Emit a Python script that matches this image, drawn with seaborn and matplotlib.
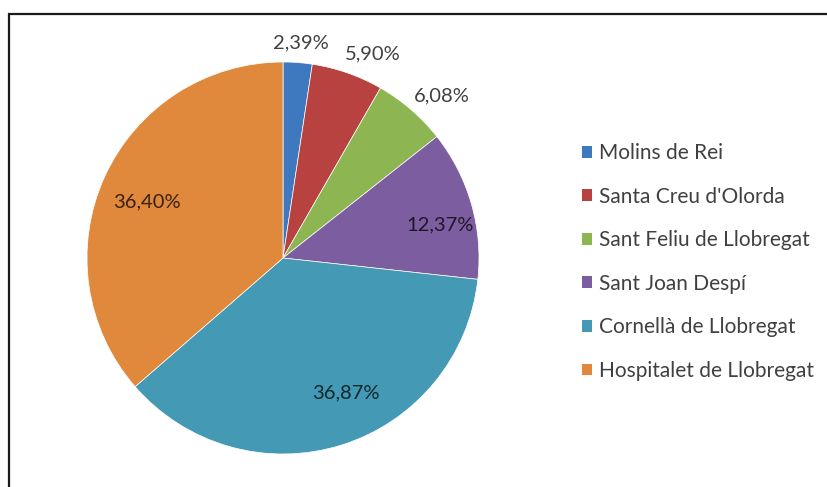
import numpy as np
import matplotlib
matplotlib.use("Agg")
import matplotlib.pyplot as plt
import seaborn as sns
from matplotlib.patches import Rectangle

# Share of each municipality
municipalities = [
    "Molins de Rei",
    "Santa Creu d'Olorda",
    "Sant Feliu de Llobregat",
    "Sant Joan Despí",
    "Cornellà de Llobregat",
    "Hospitalet de Llobregat",
]
shares = [2.39, 5.90, 6.08, 12.37, 36.87, 36.40]
share_labels = ["2,39%", "5,90%", "6,08%", "12,37%", "36,87%", "36,40%"]

sns.set_theme(style="white")
plt.rcParams["font.family"] = ["Lato", "DejaVu Sans"]

palette = sns.color_palette(
    ["#3E79BF", "#B8423F", "#8DB552", "#7C5EA0", "#4499B4", "#E0883B"]
)

W, H = 827, 487
fig = plt.figure(figsize=(W / 100, H / 100), dpi=100)
fig.patch.set_facecolor("white")

# square axes holding the pie
cx, cy, r = 283, 258, 196
ax = fig.add_axes([(cx - r) / W, (H - cy - r) / H, 2 * r / W, 2 * r / H])

wedges, _ = ax.pie(
    shares,
    colors=palette,
    startangle=90,
    counterclock=False,
    wedgeprops=dict(edgecolor="white", linewidth=0.5),
)
ax.set_xlim(-1, 1)
ax.set_ylim(-1, 1)
ax.set_aspect("equal")
ax.axis("off")

# label radius and small angular nudge per slice (best-fit placement)
label_radius = [1.10, 1.14, 1.16, 0.82, 0.76, 0.75]
label_shift = [-0.5, -4.5, -3.6, -4.1, 7.6, 2.1]
for w, txt, rad, shift in zip(wedges, share_labels, label_radius, label_shift):
    ang = np.deg2rad((w.theta1 + w.theta2) / 2 + shift)
    ax.text(rad * np.cos(ang), rad * np.sin(ang), txt,
            ha="center", va="center", fontsize=14.5,
            color="black", alpha=0.75, clip_on=False)

# legend on the right
handles = [Rectangle((0, 0), 1, 1, facecolor=c, edgecolor="none") for c in palette]
leg = fig.legend(
    handles, municipalities,
    loc="center left", bbox_to_anchor=(582 / W, 1 - 262 / H),
    frameon=False, fontsize=15, handlelength=0.5, handleheight=0.5,
    handletextpad=0.3, labelspacing=1.13, borderpad=0, borderaxespad=0,
)
for t in leg.get_texts():
    t.set_color("#404040")

# outer frame
fig.patches.append(Rectangle(
    (9 / W, -0.2), 1.2, 1.2 - 14 / H, transform=fig.transFigure,
    fill=False, edgecolor="#1a1a1a", linewidth=1.6, clip_on=False,
))

fig.savefig("out.png", dpi=100)
